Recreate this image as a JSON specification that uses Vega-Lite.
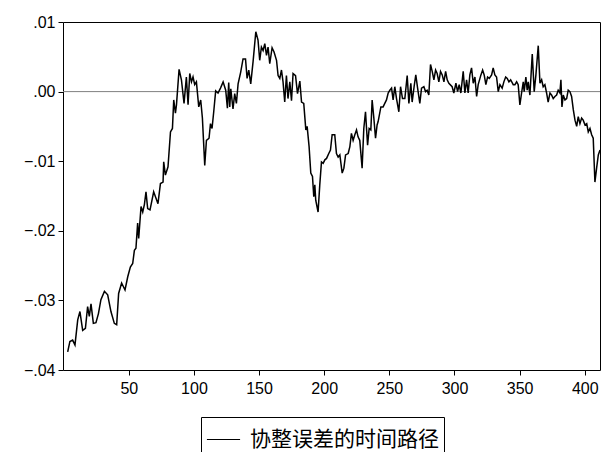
{
 "$schema": "https://vega.github.io/schema/vega-lite/v6.json",
 "width": 537,
 "height": 348,
 "autosize": {"type": "none"},
 "padding": {"left": 63, "top": 22, "right": 6, "bottom": 82},
 "background": "white",
 "config": {
  "view": {"stroke": "black", "strokeWidth": 1},
  "axis": {"grid": false, "domain": false, "tickColor": "black", "tickSize": 5, "labelColor": "black", "labelFont": "Liberation Sans", "labelFontSize": 16, "title": null}
 },
 "layer": [
  {
   "data": {"values": [{"z": 0}]},
   "mark": {"type": "rule", "color": "#808080", "strokeWidth": 1},
   "encoding": {"y": {"field": "z", "type": "quantitative"}}
  },
  {
   "data": {"values": [
{"t":3.1,"v":-0.0374},{"t":4.8,"v":-0.0359},{"t":6.9,"v":-0.0357},{"t":8.7,"v":-0.0364},{"t":10.8,"v":-0.0328},{"t":12.5,"v":-0.0316},{"t":14.6,"v":-0.0343},{"t":16.7,"v":-0.0340},{"t":18.4,"v":-0.0309},{"t":19.7,"v":-0.0323},{"t":21.0,"v":-0.0305},{"t":22.8,"v":-0.0333},{"t":24.8,"v":-0.0332},{"t":26.7,"v":-0.0319},{"t":28.6,"v":-0.0299},{"t":31.3,"v":-0.0287},{"t":33.8,"v":-0.0292},{"t":36.3,"v":-0.0316},{"t":38.9,"v":-0.0333},{"t":40.7,"v":-0.0335},{"t":42.2,"v":-0.0290},{"t":44.5,"v":-0.0275},{"t":47.1,"v":-0.0285},{"t":49.2,"v":-0.0266},{"t":51.2,"v":-0.0252},{"t":53.0,"v":-0.0247},{"t":54.3,"v":-0.0228},{"t":55.5,"v":-0.0225},{"t":56.8,"v":-0.0189},{"t":57.6,"v":-0.0211},{"t":59.4,"v":-0.0165},{"t":60.7,"v":-0.0173},{"t":62.0,"v":-0.0162},{"t":63.2,"v":-0.0144},{"t":64.5,"v":-0.0168},{"t":66.3,"v":-0.0170},{"t":69.1,"v":-0.0144},{"t":72.4,"v":-0.0161},{"t":74.3,"v":-0.0132},{"t":76.3,"v":-0.0130},{"t":76.8,"v":-0.0101},{"t":78.1,"v":-0.0120},{"t":80.1,"v":-0.0108},{"t":82.0,"v":-0.0058},{"t":83.5,"v":-0.0053},{"t":84.5,"v":-0.0012},{"t":85.8,"v":-0.0031},{"t":86.6,"v":-0.0019},{"t":88.6,"v":0.0032},{"t":90.4,"v":0.0017},{"t":92.4,"v":-0.0017},{"t":94.2,"v":0.0021},{"t":95.5,"v":-0.0019},{"t":96.8,"v":0.0026},{"t":98.1,"v":0.0014},{"t":99.3,"v":0.0021},{"t":100.6,"v":0.0010},{"t":101.9,"v":0.0014},{"t":103.7,"v":-0.0022},{"t":105.2,"v":-0.0012},{"t":106.5,"v":-0.0038},{"t":108.3,"v":-0.0106},{"t":109.6,"v":-0.0070},{"t":111.6,"v":-0.0067},{"t":112.7,"v":-0.0046},{"t":113.9,"v":-0.0053},{"t":115.2,"v":-0.0029},{"t":116.7,"v":0.0001},{"t":118.5,"v":-0.0002},{"t":120.4,"v":0.0005},{"t":122.4,"v":0.0014},{"t":124.4,"v":0.0002},{"t":125.7,"v":-0.0024},{"t":126.7,"v":0.0013},{"t":127.5,"v":-0.0022},{"t":128.3,"v":0.0004},{"t":130.0,"v":-0.0025},{"t":131.3,"v":-0.0003},{"t":132.6,"v":-0.0017},{"t":133.9,"v":0.0011},{"t":135.9,"v":0.0028},{"t":137.7,"v":0.0047},{"t":139.6,"v":0.0047},{"t":140.8,"v":0.0019},{"t":142.1,"v":0.0031},{"t":143.6,"v":0.0011},{"t":145.4,"v":0.0043},{"t":147.5,"v":0.0086},{"t":149.2,"v":0.0074},{"t":150.5,"v":0.0045},{"t":151.8,"v":0.0064},{"t":153.1,"v":0.0059},{"t":154.4,"v":0.0069},{"t":155.7,"v":0.0052},{"t":156.9,"v":0.0064},{"t":158.2,"v":0.0040},{"t":160.0,"v":0.0063},{"t":161.5,"v":0.0057},{"t":163.4,"v":0.0045},{"t":164.6,"v":0.0023},{"t":165.9,"v":0.0019},{"t":167.2,"v":0.0031},{"t":168.4,"v":0.0014},{"t":169.7,"v":-0.0015},{"t":171.0,"v":0.0023},{"t":172.2,"v":-0.0010},{"t":173.6,"v":0.0014},{"t":174.9,"v":-0.0013},{"t":176.1,"v":0.0026},{"t":178.0,"v":0.0023},{"t":179.5,"v":-0.0003},{"t":181.3,"v":0.0015},{"t":182.6,"v":-0.0015},{"t":184.3,"v":-0.0017},{"t":185.9,"v":-0.0055},{"t":186.9,"v":-0.0050},{"t":188.4,"v":-0.0079},{"t":189.7,"v":-0.0117},{"t":191.0,"v":-0.0122},{"t":192.0,"v":-0.0151},{"t":192.8,"v":-0.0134},{"t":193.5,"v":-0.0156},{"t":195.3,"v":-0.0173},{"t":196.6,"v":-0.0134},{"t":197.9,"v":-0.0101},{"t":199.2,"v":-0.0103},{"t":200.5,"v":-0.0098},{"t":201.8,"v":-0.0096},{"t":203.5,"v":-0.0089},{"t":204.8,"v":-0.0084},{"t":206.1,"v":-0.0062},{"t":208.1,"v":-0.0062},{"t":209.4,"v":-0.0089},{"t":210.7,"v":-0.0094},{"t":212.0,"v":-0.0091},{"t":213.8,"v":-0.0117},{"t":215.1,"v":-0.0110},{"t":216.4,"v":-0.0091},{"t":218.4,"v":-0.0089},{"t":219.7,"v":-0.0079},{"t":220.9,"v":-0.0060},{"t":222.2,"v":-0.0070},{"t":223.5,"v":-0.0062},{"t":224.8,"v":-0.0055},{"t":226.0,"v":-0.0065},{"t":227.3,"v":-0.0070},{"t":229.1,"v":-0.0110},{"t":230.4,"v":-0.0053},{"t":231.7,"v":-0.0029},{"t":233.3,"v":-0.0077},{"t":234.5,"v":-0.0053},{"t":235.8,"v":-0.0055},{"t":236.8,"v":-0.0012},{"t":238.1,"v":-0.0038},{"t":239.4,"v":-0.0067},{"t":240.6,"v":-0.0048},{"t":241.4,"v":-0.0043},{"t":243.5,"v":-0.0022},{"t":245.2,"v":-0.0022},{"t":246.5,"v":-0.0017},{"t":247.8,"v":-0.0012},{"t":249.1,"v":-0.0002},{"t":250.4,"v":0.0002},{"t":251.7,"v":0.0005},{"t":252.9,"v":-0.0012},{"t":254.2,"v":0.0007},{"t":255.5,"v":-0.0010},{"t":257.3,"v":-0.0029},{"t":258.6,"v":0.0007},{"t":260.1,"v":-0.0010},{"t":261.9,"v":-0.0010},{"t":263.7,"v":0.0023},{"t":265.0,"v":-0.0017},{"t":266.5,"v":0.0012},{"t":267.5,"v":-0.0015},{"t":269.0,"v":0.0007},{"t":270.3,"v":0.0024},{"t":271.7,"v":0.0005},{"t":273.4,"v":-0.0017},{"t":274.7,"v":0.0005},{"t":276.5,"v":0.0007},{"t":277.8,"v":0.0000},{"t":279.0,"v":0.0002},{"t":280.3,"v":-0.0005},{"t":281.6,"v":0.0039},{"t":282.9,"v":0.0029},{"t":284.2,"v":0.0017},{"t":285.5,"v":0.0031},{"t":286.7,"v":0.0026},{"t":288.0,"v":0.0014},{"t":289.3,"v":0.0029},{"t":290.6,"v":0.0024},{"t":291.9,"v":0.0014},{"t":293.2,"v":0.0029},{"t":294.4,"v":0.0017},{"t":295.7,"v":0.0012},{"t":298.2,"v":0.0007},{"t":299.5,"v":-0.0002},{"t":301.1,"v":0.0012},{"t":302.4,"v":0.0000},{"t":303.6,"v":0.0010},{"t":304.9,"v":-0.0002},{"t":306.7,"v":0.0029},{"t":308.0,"v":-0.0002},{"t":309.3,"v":0.0017},{"t":310.5,"v":-0.0002},{"t":311.8,"v":0.0024},{"t":313.1,"v":0.0034},{"t":314.4,"v":0.0012},{"t":315.7,"v":0.0021},{"t":317.0,"v":-0.0007},{"t":318.2,"v":0.0010},{"t":320.3,"v":0.0024},{"t":321.6,"v":0.0031},{"t":322.8,"v":0.0024},{"t":324.1,"v":0.0010},{"t":325.4,"v":0.0021},{"t":326.7,"v":0.0019},{"t":328.5,"v":0.0024},{"t":329.7,"v":0.0034},{"t":331.0,"v":0.0024},{"t":332.3,"v":0.0021},{"t":333.6,"v":0.0000},{"t":334.9,"v":0.0010},{"t":336.6,"v":0.0005},{"t":337.9,"v":0.0014},{"t":339.3,"v":0.0021},{"t":340.5,"v":0.0019},{"t":341.8,"v":0.0014},{"t":343.1,"v":0.0017},{"t":345.1,"v":0.0010},{"t":346.4,"v":0.0010},{"t":347.7,"v":0.0014},{"t":348.9,"v":0.0010},{"t":350.2,"v":-0.0019},{"t":351.5,"v":-0.0002},{"t":352.8,"v":0.0014},{"t":353.5,"v":0.0000},{"t":354.8,"v":0.0021},{"t":355.8,"v":0.0002},{"t":356.6,"v":0.0014},{"t":357.9,"v":-0.0005},{"t":359.7,"v":0.0054},{"t":361.2,"v":0.0000},{"t":362.5,"v":0.0024},{"t":364.3,"v":0.0066},{"t":365.6,"v":0.0012},{"t":366.9,"v":0.0017},{"t":368.1,"v":0.0007},{"t":369.4,"v":0.0010},{"t":370.7,"v":-0.0002},{"t":371.9,"v":-0.0015},{"t":373.3,"v":-0.0002},{"t":374.6,"v":-0.0005},{"t":375.8,"v":-0.0010},{"t":377.1,"v":-0.0007},{"t":378.4,"v":-0.0005},{"t":379.6,"v":0.0002},{"t":380.9,"v":-0.0002},{"t":381.7,"v":0.0017},{"t":382.5,"v":-0.0022},{"t":383.5,"v":-0.0005},{"t":384.8,"v":-0.0012},{"t":386.1,"v":-0.0010},{"t":387.3,"v":0.0002},{"t":388.6,"v":0.0000},{"t":389.9,"v":-0.0007},{"t":391.2,"v":-0.0026},{"t":392.5,"v":-0.0041},{"t":393.8,"v":-0.0050},{"t":395.0,"v":-0.0036},{"t":396.3,"v":-0.0046},{"t":397.6,"v":-0.0038},{"t":398.8,"v":-0.0041},{"t":400.2,"v":-0.0048},{"t":401.5,"v":-0.0046},{"t":402.7,"v":-0.0058},{"t":404.0,"v":-0.0053},{"t":405.3,"v":-0.0062},{"t":406.5,"v":-0.0067},{"t":407.8,"v":-0.0130},{"t":409.1,"v":-0.0110},{"t":410.4,"v":-0.0091},{"t":411.7,"v":-0.0084}
   ]},
   "mark": {"type": "line", "strokeWidth": 1.5, "strokeJoin": "miter"},
   "encoding": {
    "x": {"field": "t", "type": "quantitative", "scale": {"domain": [-0.5, 411.7], "nice": false, "zero": false}, "axis": {"values": [50, 100, 150, 200, 250, 300, 350, 400], "labelPadding": 5}},
    "y": {"field": "v", "type": "quantitative", "scale": {"domain": [-0.04, 0.01], "nice": false}, "axis": {"values": [-0.04, -0.03, -0.02, -0.01, 0, 0.01], "labelExpr": "replace(format(datum.value, '.2f'), '0.', '.')", "labelPadding": 3}},
    "color": {"datum": "协整误差的时间路径", "type": "nominal", "scale": {"range": ["black"]}, "legend": {"title": null, "orient": "none", "legendX": 138, "legendY": 395, "strokeColor": "black", "padding": 5, "symbolType": "stroke", "symbolSize": 1100, "symbolStrokeWidth": 1.2, "labelFont": "Noto Sans CJK SC", "labelFontSize": 21, "labelColor": "black", "labelLimit": 400, "labelOffset": 9}}
   }
  }
 ]
}
